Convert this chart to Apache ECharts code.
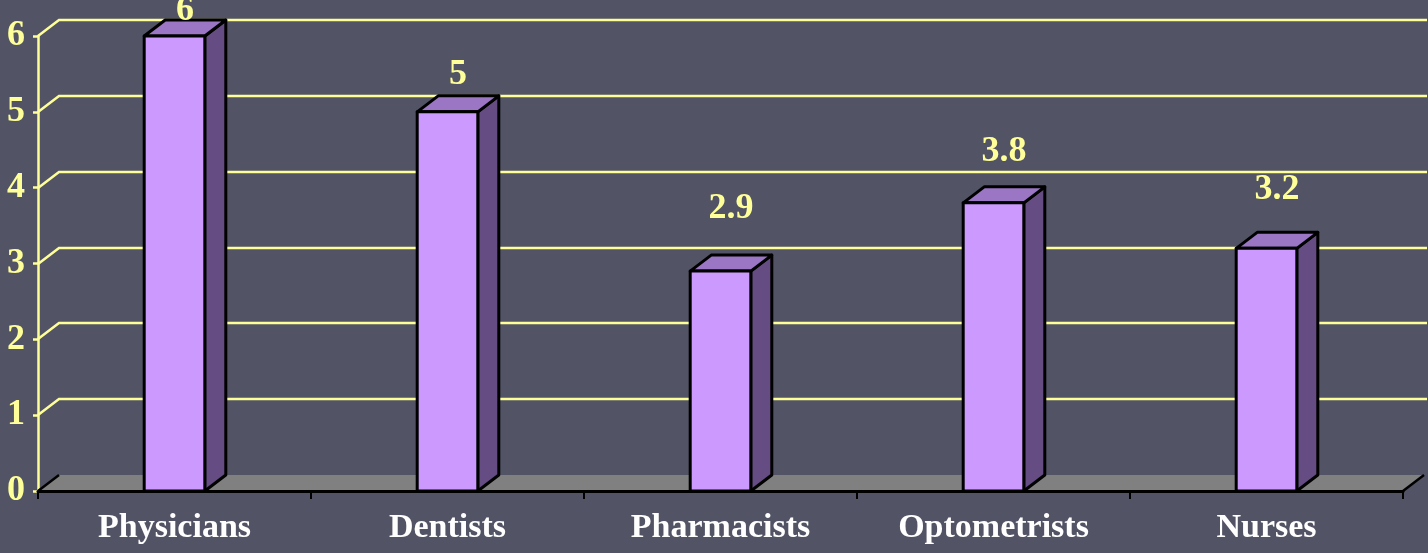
<!DOCTYPE html>
<html>
<head>
<meta charset="utf-8">
<script src="https://cdn.jsdelivr.net/npm/echarts@6/dist/echarts.min.js"></script>
<style>
  html, body { margin: 0; padding: 0; background: #525466; }
  #main { width: 1428px; height: 553px; }
</style>
</head>
<body>
<div id="main"></div>
<script>
var categories = ['Physicians', 'Dentists', 'Pharmacists', 'Optometrists', 'Nurses'];
var values = [6, 5, 2.9, 3.8, 3.2];
var yTicks = [0, 1, 2, 3, 4, 5, 6];

// depth of the fake 3d box
var DX = 21, DY = -16;
var serif = '"Liberation Serif", "Times New Roman", serif';

var chart = echarts.init(document.getElementById('main'));

var gridRender = function(params, api) {
    var v = api.value(1);
    if (v === 0) return null;
    var y = Math.round(api.coord([0, v])[1]);
    var x0 = params.coordSys.x;
    return {
        type: 'polyline',
        shape: { points: [[x0, y], [x0 + DX, y + DY], [1427, y + DY]] },
        style: { stroke: '#ffff99', lineWidth: 2.5, fill: null }
    };
};

var floorRender = function(params, api) {
    var cs = params.coordSys;
    var yb = api.coord([0, 0])[1];
    var x0 = cs.x, x1 = cs.x + cs.width;
    return {
        type: 'group',
        children: [{
            type: 'polygon',
            shape: { points: [[x0, yb], [x0 + DX, yb + DY], [x1 + DX, yb + DY], [x1, yb]] },
            style: { fill: '#808080', stroke: null }
        }, {
            type: 'line',
            shape: { x1: x0, y1: yb, x2: x0 + DX, y2: yb + DY },
            style: { stroke: '#000', lineWidth: 2.5 }
        }, {
            type: 'line',
            shape: { x1: x1, y1: yb, x2: x1 + DX, y2: yb + DY },
            style: { stroke: '#000', lineWidth: 2.5 }
        }]
    };
};

var barRender = function(params, api) {
    var i = api.value(0), v = api.value(1);
    var top = api.coord([i, v]);
    var base = api.coord([i, 0])[1];
    var w = api.size([1, 0])[0] * 0.222;
    var x = top[0] - w / 2, y = top[1];
    // label sits a bit higher than the box, like the original slide
    var ly = api.coord([i, 1.27 + 0.844 * v])[1];
    var edge = { stroke: '#000', lineWidth: 3, lineJoin: 'round' };
    return {
        type: 'group',
        children: [{
            type: 'polygon',
            shape: { points: [[x + w, y], [x + w + DX, y + DY], [x + w + DX, base + DY], [x + w, base]] },
            style: Object.assign({ fill: '#654c82' }, edge)
        }, {
            type: 'polygon',
            shape: { points: [[x, y], [x + DX, y + DY], [x + w + DX, y + DY], [x + w, y]] },
            style: Object.assign({ fill: '#9a76c4' }, edge)
        }, {
            type: 'rect',
            shape: { x: x, y: y, width: w, height: base - y },
            style: Object.assign({ fill: '#cc99ff' }, edge)
        }, {
            type: 'text',
            x: top[0] + DX / 2,
            y: ly,
            style: {
                text: String(v),
                fill: '#ffff99',
                font: 'bold 36px ' + serif,
                align: 'center',
                verticalAlign: 'middle'
            }
        }]
    };
};

var option = {
    backgroundColor: '#525466',
    animation: false,
    grid: { left: 38, right: 25, top: 36, bottom: 62 },
    xAxis: {
        type: 'category',
        data: categories,
        z: 10,
        axisLine: { lineStyle: { color: '#000', width: 3 } },
        axisTick: { show: true, length: 8, lineStyle: { color: '#000', width: 2 } },
        axisLabel: {
            color: '#fff',
            fontFamily: serif,
            fontWeight: 'bold',
            fontSize: 34,
            margin: 20
        },
        splitLine: { show: false }
    },
    yAxis: {
        type: 'value',
        min: 0,
        max: 6,
        interval: 1,
        axisLine: { show: true, lineStyle: { color: '#ffff99', width: 2.5 } },
        axisTick: { show: true, length: 5, lineStyle: { color: '#ffff99', width: 2.5 } },
        axisLabel: {
            color: '#ffff99',
            fontFamily: serif,
            fontWeight: 'bold',
            fontSize: 36,
            margin: 13,
            padding: [14, 0, 0, 0]
        },
        splitLine: { show: false }
    },
    series: [{
        type: 'custom',
        renderItem: gridRender,
        clip: false,
        silent: true,
        z: 1,
        data: yTicks.map(function(t) { return [0, t]; })
    }, {
        type: 'custom',
        renderItem: floorRender,
        clip: false,
        silent: true,
        z: 2,
        data: [[0, 0]]
    }, {
        type: 'custom',
        renderItem: barRender,
        clip: false,
        z: 3,
        data: values.map(function(v, i) { return [i, v]; })
    }]
};

chart.setOption(option);
</script>
</body>
</html>
